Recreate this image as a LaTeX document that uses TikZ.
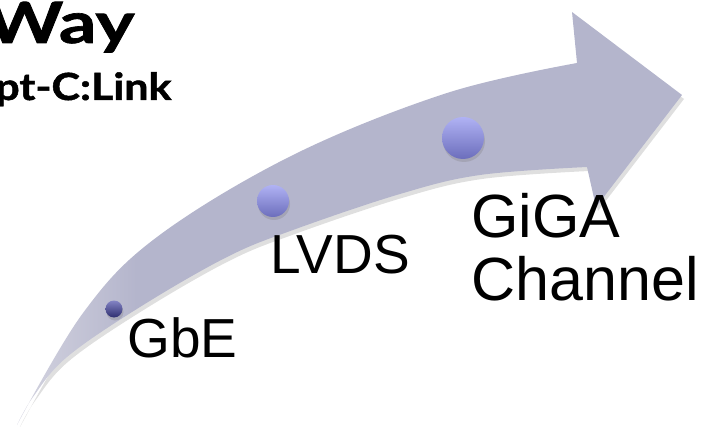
\documentclass[tikz,border=0pt]{standalone}
\usepackage{fontspec}
\setmainfont{Liberation Sans}
\newfontfamily\gillfont{Lato}[BoldFeatures={FakeBold=1.2}]
\usetikzlibrary{shadows,positioning}
\definecolor{lav}{HTML}{B4B5CC}
\definecolor{lavlight}{HTML}{D4D4E0}
\definecolor{balltop}{HTML}{B0B2F4}
\definecolor{ballbot}{HTML}{6C6EBC}
\definecolor{smalltop}{HTML}{8484C4}
\definecolor{smallbot}{HTML}{2E2E70}
\pgfdeclarehorizontalshading{arrowfade}{100bp}{color(0bp)=(lavlight); color(25bp)=(lavlight); color(34bp)=(lav); color(100bp)=(lav)}

\begin{document}
\begin{tikzpicture}[x=0.5pt, y=-0.5pt,
  ball/.style={circle, inner sep=0pt, top color=balltop, bottom color=ballbot,
    drop shadow={shadow xshift=0.5pt, shadow yshift=-1.5pt, opacity=0.3}},
  tagtext/.style={inner sep=0pt, anchor=base west, font=\fontsize{27.5}{31.5}\selectfont},
  bigtag/.style={tagtext, font=\fontsize{30.5}{31.5}\selectfont},
  title/.style={inner sep=0pt, anchor=base east, font=\gillfont\bfseries}]
\useasboundingbox (0,0) rectangle (711,427);
% arrow
\coordinate (tail) at (17,425);
\coordinate (neckT) at (577,63);
\coordinate (headT) at (572,12);
\coordinate (tip) at (682,95);
\coordinate (headB) at (596,207);
\coordinate (neckB) at (587,167);
\path[shading=arrowfade,
  drop shadow={shadow xshift=1pt, shadow yshift=-2pt, opacity=0.25}]
  plot[smooth, tension=0.6] coordinates {(17,425) (83,313) (157,237) (293,155) (447,93) (577,63)}
  -- (headT) -- (tip) -- (headB)
  -- plot[smooth, tension=0.6] coordinates {(587,167) (480,175) (400,194) (293,230) (227,257) (140,307) (67,357) (33,397) (17,425)}
  -- cycle;
% dots
\node[ball, minimum size=42*0.5pt] (big) at (463,138) {};
\node[ball, minimum size=32*0.5pt] (mid) at (273,201) {};
\node[ball, minimum size=17*0.5pt, top color=smalltop, bottom color=smallbot] (small) at (114,309) {};
% labels
\node[tagtext] (gbe) at (127,357) {GbE};
\node[tagtext] (lvds) at (270,273) {LVDS};
\node[bigtag] (giga) at (471,237) {GiGA};
\node[bigtag] (chan) at ([yshift=-31.5pt]giga.base west) {Channel};
% title
\node[title, font=\gillfont\bfseries\fontsize{28.5}{30}\selectfont, xscale=1.3] (way) at (135,43) {Way};
\node[title, font=\gillfont\bfseries\fontsize{18.7}{22}\selectfont, xscale=1.15] (link) at (172,100) {pt-C:Link};
\end{tikzpicture}
\end{document}
